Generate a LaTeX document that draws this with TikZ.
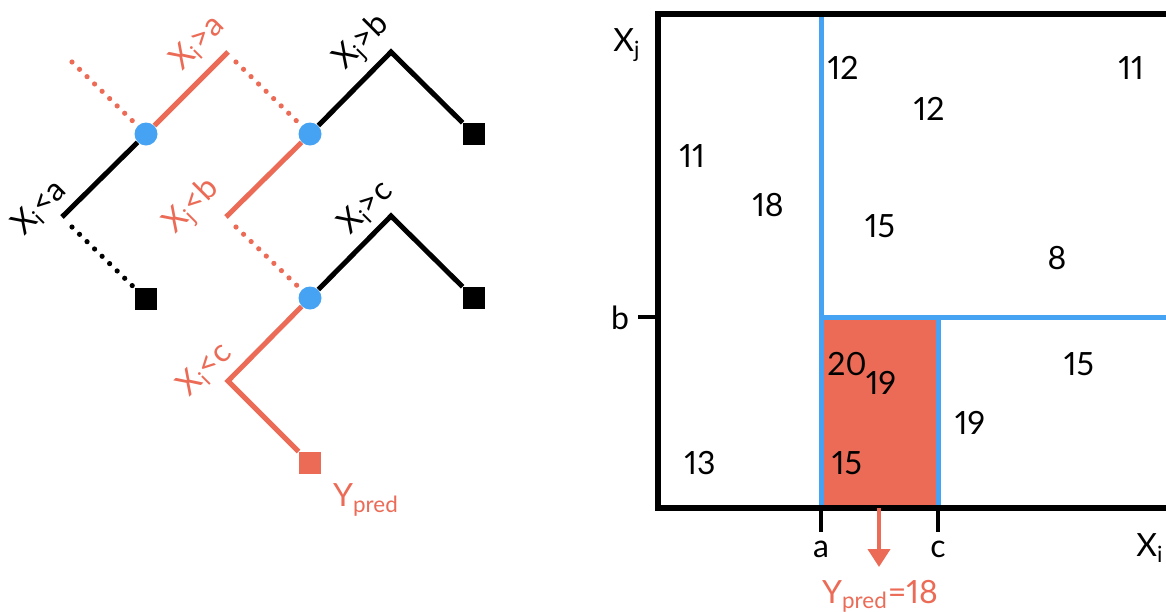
\documentclass[tikz,border=0pt]{standalone}
\usepackage{fontspec}
\setmainfont{Lato}[Numbers=Proportional]
\usetikzlibrary{arrows.meta, positioning, calc}
\definecolor{hl}{HTML}{EB6B56}
\definecolor{sp}{HTML}{46A2F2}

\begin{document}
\begin{tikzpicture}[x=0.5pt, y=-0.5pt,
    every node/.style={font=\fontsize{16}{18}\selectfont, inner sep=1pt},
    split/.style={circle, fill=sp, inner sep=0pt, minimum size=11.5pt},
    leaf/.style={rectangle, fill=black, inner sep=0pt, minimum size=11pt},
    edge/.style={line width=2.5pt},
    dots/.style={line width=2.6pt, line cap=round, dash pattern=on 0pt off 5.25pt},
    cond/.style={rotate=45},
    part/.style={sp, line width=2.5pt},
]
\clip (0,0) rectangle (1166,611);

% the tree
\node[split] (r) at (146,134) {};
\node[split] (s) at (310,134) {};
\node[split] (t) at (310,298) {};
\node[leaf] (l1) at (146,299) {};
\node[leaf] (l2) at (474,134) {};
\node[leaf] (l3) at (474,298) {};
\node[leaf, fill=hl] (yp) at (310,463) {};

\coordinate (ra) at (228,52);
\coordinate (rb) at (62,217);
\coordinate (sa) at (391,52);
\coordinate (sb) at (226,217);
\coordinate (ta) at (391,216);
\coordinate (tb) at (228,381);
\coordinate (d1) at (72,62);
\coordinate (d2) at (236,62);
\coordinate (d3) at (72,227);
\coordinate (d4) at (236,227);

\draw[edge] (r) -- (rb);
\draw[edge, hl] (r) -- (ra);
\draw[edge] (s) -- (sa) -- (l2);
\draw[edge, hl] (s) -- (sb);
\draw[edge] (t) -- (ta) -- (l3);
\draw[edge, hl] (t) -- (tb) -- (yp);

\draw[dots, hl] (d1) -- (r);
\draw[dots, hl] (d2) -- (s);
\draw[dots, hl] (d4) -- (t);
\draw[dots] (d3) -- (l1);

\node[cond] (c1) at (40,208) {X\textsubscript{i}<a};
\node[cond, text=hl] (c2) at (198,43) {X\textsubscript{i}>a};
\node[cond] (c3) at (363,43) {X\textsubscript{j}>b};
\node[cond, text=hl] (c4) at (193,207) {X\textsubscript{j}<b};
\node[cond] (c5) at (366,208) {X\textsubscript{i}>c};
\node[cond, text=hl] (c6) at (205,370) {X\textsubscript{i}<c};
\node[text=hl] (yl) at (366,500) {Y\textsubscript{pred}};

% the partition
\fill[hl] (821,317) rectangle (938,508);
\draw[part] (821,14) -- (821,508);
\draw[part] (821,317) -- (1170,317);
\draw[part] (938,317) -- (938,508);
\draw[line width=3pt] (658,14) rectangle (1175,508);

\coordinate (tb0) at (638,317);
\coordinate (tb1) at (658,317);
\coordinate (ta0) at (821,508);
\coordinate (ta1) at (821,532);
\coordinate (tc0) at (938,508);
\coordinate (tc1) at (938,532);
\draw[line width=1.6pt] (tb0) -- (tb1);
\draw[line width=1.6pt] (ta0) -- (ta1);
\draw[line width=1.6pt] (tc0) -- (tc1);

\node (lb) at (620,318) {b};
\node (la) at (821,549) {a};
\node (lc) at (938,549) {c};
\node (xi) at (1150,548) {X\textsubscript{i}};
\node (xj) at (627,45) {X\textsubscript{j}};

\coordinate (ya) at (879,508);
\coordinate (yb) at (879,567);
\draw[hl, line width=2pt, -{Triangle[width=11pt, length=9pt]}] (ya) -- (yb);
\node[text=hl] (yq) at (880,596) {Y\textsubscript{pred}=18};

% the samples
\node (v1) at (843,68) {12};
\node (v2) at (1131,68) {11};
\node (v3) at (929,109) {12};
\node (v4) at (692,156) {11};
\node (v5) at (768,205) {18};
\node (v6) at (880,226) {15};
\node (v7) at (1057,258) {8};
\node (v8) at (847,364) {20};
\node (v9) at (881,383) {19};
\node (v10) at (1079,364) {15};
\node (v11) at (970,423) {19};
\node (v12) at (700,463) {13};
\node (v13) at (847,463) {15};

\end{tikzpicture}
\end{document}
